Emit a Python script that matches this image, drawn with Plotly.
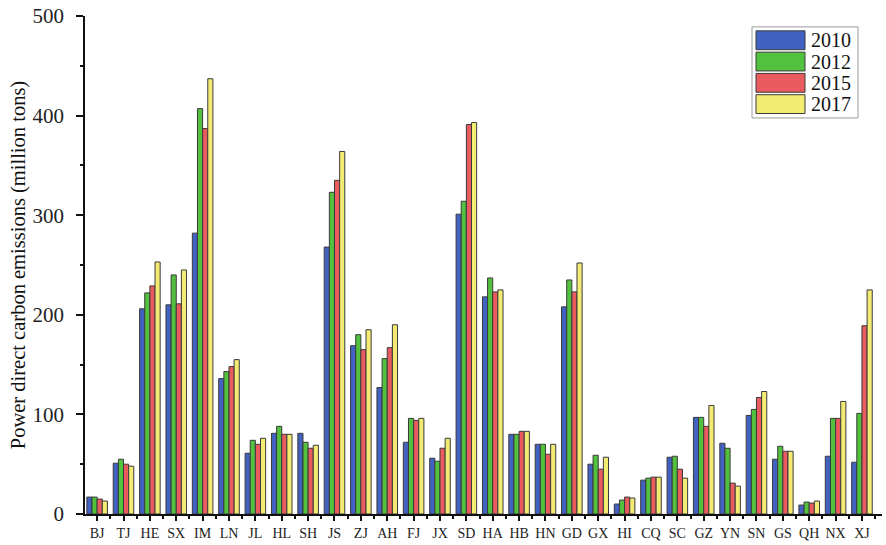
import plotly.graph_objects as go

provinces = ['BJ', 'TJ', 'HE', 'SX', 'IM', 'LN', 'JL', 'HL', 'SH', 'JS',
             'ZJ', 'AH', 'FJ', 'JX', 'SD', 'HA', 'HB', 'HN', 'GD', 'GX',
             'HI', 'CQ', 'SC', 'GZ', 'YN', 'SN', 'GS', 'QH', 'NX', 'XJ']

e2010 = [17, 51, 206, 210, 282, 136, 61, 81, 81, 268,
         169, 127, 72, 56, 301, 218, 80, 70, 208, 50,
         10, 34, 57, 97, 71, 99, 55, 9, 58, 52]
e2012 = [17, 55, 222, 240, 407, 143, 74, 88, 72, 323,
         180, 156, 96, 53, 314, 237, 80, 70, 235, 59,
         14, 36, 58, 97, 66, 105, 68, 12, 96, 101]
e2015 = [15, 50, 229, 211, 387, 148, 70, 80, 66, 335,
         165, 167, 94, 66, 391, 223, 83, 60, 223, 45,
         17, 37, 45, 88, 31, 117, 63, 11, 96, 189]
e2017 = [13, 48, 253, 245, 437, 155, 76, 80, 69, 364,
         185, 190, 96, 76, 393, 225, 83, 70, 252, 57,
         16, 37, 36, 109, 28, 123, 63, 13, 113, 225]

years = ['2010', '2012', '2015', '2017']
series = [e2010, e2012, e2015, e2017]
colors = ['#4262C2', '#52C23E', '#E95B5E', '#F3EB72']

serif = 'Liberation Serif, Times New Roman, serif'
xpos = list(range(len(provinces)))

W, H = 886, 545
ML, MR, MT, MB = 85, 4, 13, 29


def px(x):
    # pixel -> paper x
    return (x - ML) / (W - ML - MR)


def py(y):
    # pixel -> paper y
    return (H - MB - y) / (H - MT - MB)


fig = go.Figure()
for name, vals, col in zip(years, series, colors):
    fig.add_trace(go.Bar(
        x=xpos, y=vals, name=name,
        marker=dict(color=col, line=dict(color='#3a3a3a', width=1))
    ))

# legend drawn by hand to get the wide colour swatches
shapes = [dict(type='rect', xref='paper', yref='paper',
               x0=px(752), x1=px(858), y0=py(116), y1=py(24),
               line=dict(color='#9a9a9a', width=1), fillcolor='white', layer='above')]
annotations = []
for i, (name, col) in enumerate(zip(years, colors)):
    top = 28 + i * 21.5
    shapes.append(dict(type='rect', xref='paper', yref='paper',
                       x0=px(756), x1=px(805), y0=py(top + 19), y1=py(top),
                       line=dict(color='#3a3a3a', width=1), fillcolor=col, layer='above'))
    annotations.append(dict(xref='paper', yref='paper', x=px(810), y=py(top + 9.5),
                            text=name, showarrow=False, xanchor='left', yanchor='middle',
                            height=20, borderpad=0,
                            font=dict(size=20, family=serif, color='#111')))

fig.update_layout(
    width=W, height=H,
    margin=dict(l=ML, r=MR, t=MT, b=MB),
    barmode='group', bargap=0.22, bargroupgap=0,
    plot_bgcolor='white', paper_bgcolor='white',
    font=dict(family=serif, color='#111'),
    showlegend=False,
    shapes=shapes,
    annotations=annotations,
)

fig.update_xaxes(
    tickmode='array', tickvals=xpos, ticktext=provinces,
    range=[-0.46, 29.76],
    showline=True, linecolor='#111', linewidth=1.5,
    ticks='outside', ticklen=5, tickwidth=1.5, tickcolor='#111',
    minor=dict(tick0=0.5, dtick=1, ticks='outside', ticklen=3,
               tickwidth=1.5, tickcolor='#111'),
    tickfont=dict(size=14, family=serif, color='#222'),
    showgrid=False, zeroline=False, fixedrange=True,
)

fig.update_yaxes(
    range=[0, 500], dtick=100,
    showline=True, linecolor='#111', linewidth=1.5,
    ticks='outside', ticklen=7, tickwidth=1.5, tickcolor='#111',
    minor=dict(dtick=50, ticks='outside', ticklen=3,
               tickwidth=1.5, tickcolor='#111'),
    tickfont=dict(size=21, family=serif, color='#222'),
    ticklabelstandoff=8,
    title=dict(text='Power direct carbon emissions (million tons)',
               font=dict(size=20.5, family=serif), standoff=1),
    showgrid=False, zeroline=False,
)

fig.write_html('out.html', config={'displayModeBar': False},
               post_script="document.body.style.margin='0';")
